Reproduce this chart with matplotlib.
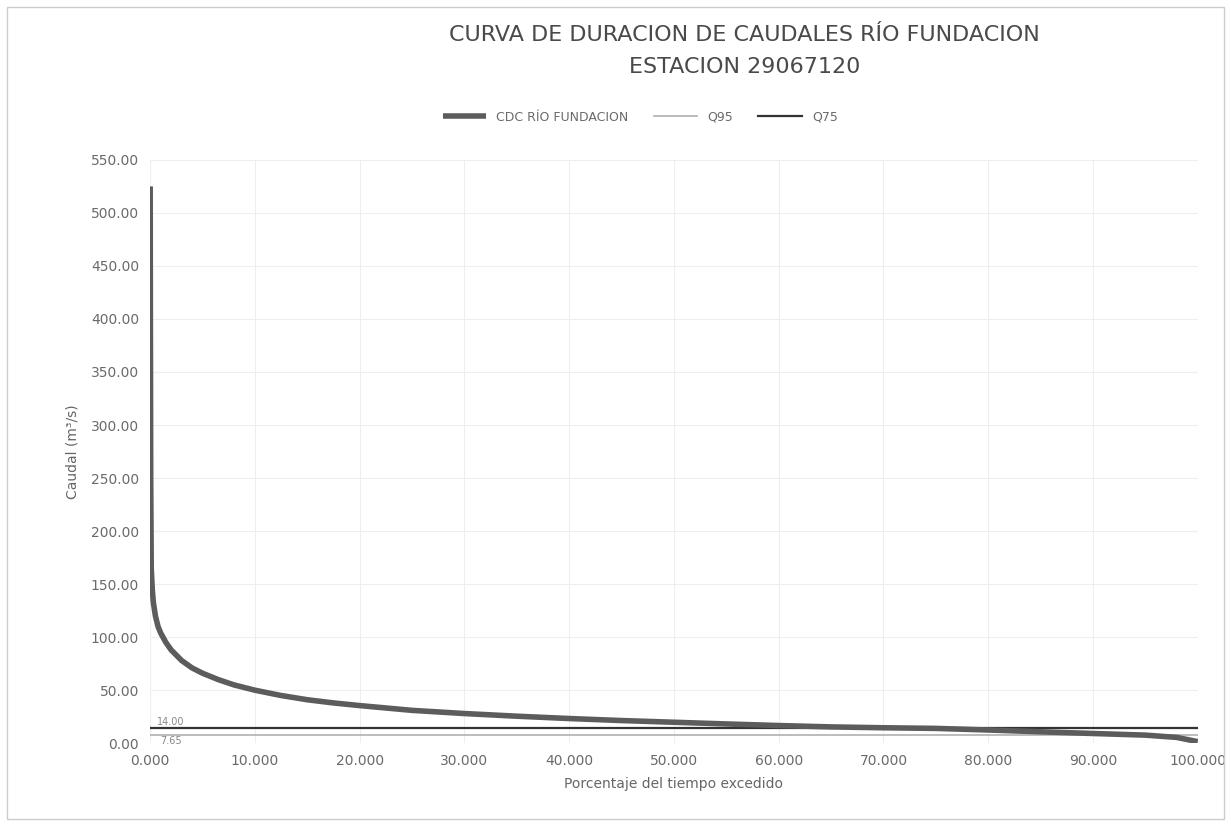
import matplotlib
matplotlib.use("Agg")
import matplotlib.pyplot as plt
from matplotlib.patches import Rectangle

# Data
pct = [0, 0.02, 0.05, 0.1, 0.2, 0.3, 0.5, 0.75, 1, 1.5, 2, 3, 4, 5, 6.5, 8, 10,
       12.5, 15, 17.5, 20, 25, 30, 35, 40, 45, 50, 55, 60, 65, 70, 75, 80, 85,
       90, 95, 98, 100]
caudal = [525, 400, 250, 165, 145, 133, 120, 110, 104, 95, 88, 78, 71, 66, 60,
          55, 50, 45, 41, 38, 35.5, 31, 28, 25.5, 23.3, 21.4, 19.8, 18.2, 16.7,
          15.4, 14.6, 14.0, 12.5, 10.8, 9.2, 7.65, 5.5, 1.5]
q95 = 7.65
q75 = 14.00
xticks = [0, 10, 20, 30, 40, 50, 60, 70, 80, 90, 100]
yticks = [0, 50, 100, 150, 200, 250, 300, 350, 400, 450, 500, 550]

fig = plt.figure(figsize=(12.31, 8.24), dpi=100)
ax = fig.add_axes([0.122, 0.098, 0.851, 0.708])

ax.plot(pct, caudal, color="#5c5c5c", lw=4.0, label="CDC RÍO FUNDACION",
        solid_capstyle="butt", solid_joinstyle="round", zorder=3)
ax.plot([0, 100], [q95, q95], color="#b0b0b0", lw=1.2, label="Q95", zorder=2)
ax.plot([0, 100], [q75, q75], color="#333333", lw=1.6, label="Q75", zorder=2)

ax.text(2.0, q75 + 1, f"{q75:.2f}", fontsize=7, color="#888888", ha="center", va="bottom")
ax.text(2.0, q95 - 1, f"{q95:.2f}", fontsize=7, color="#888888", ha="center", va="top")

ax.set_xlim(0, 100)
ax.set_ylim(0, 550)
ax.set_xticks(xticks)
ax.set_xticklabels([f"{v:.3f}" for v in xticks])
ax.set_yticks(yticks)
ax.set_yticklabels([f"{v:.2f}" for v in yticks])
ax.grid(True, color="#eeeeee", lw=0.8)
ax.set_axisbelow(True)
for s in ax.spines.values():
    s.set_visible(False)
ax.tick_params(length=0, labelsize=10, colors="#6a6a6a", pad=8)

ax.set_xlabel("Porcentaje del tiempo excedido", fontsize=10, color="#666666", labelpad=6)
ax.set_ylabel("Caudal (m³/s)", fontsize=10, color="#666666", labelpad=8)

fig.text(0.605, 0.958, "CURVA DE DURACION DE CAUDALES RÍO FUNDACION",
         ha="center", va="center", fontsize=16, color="#4a4a4a")
fig.text(0.605, 0.919, "ESTACION 29067120",
         ha="center", va="center", fontsize=16, color="#4a4a4a")

leg = fig.legend(loc="center", bbox_to_anchor=(0.52, 0.858), ncol=3, frameon=False,
                 fontsize=9, handlelength=3.5, columnspacing=2.0)
for t in leg.get_texts():
    t.set_color("#6a6a6a")

fig.patches.append(Rectangle((0.006, 0.006), 0.988, 0.985, transform=fig.transFigure,
                             fill=False, edgecolor="#cccccc", lw=1))

fig.savefig("out.png", dpi=100, facecolor="white")
